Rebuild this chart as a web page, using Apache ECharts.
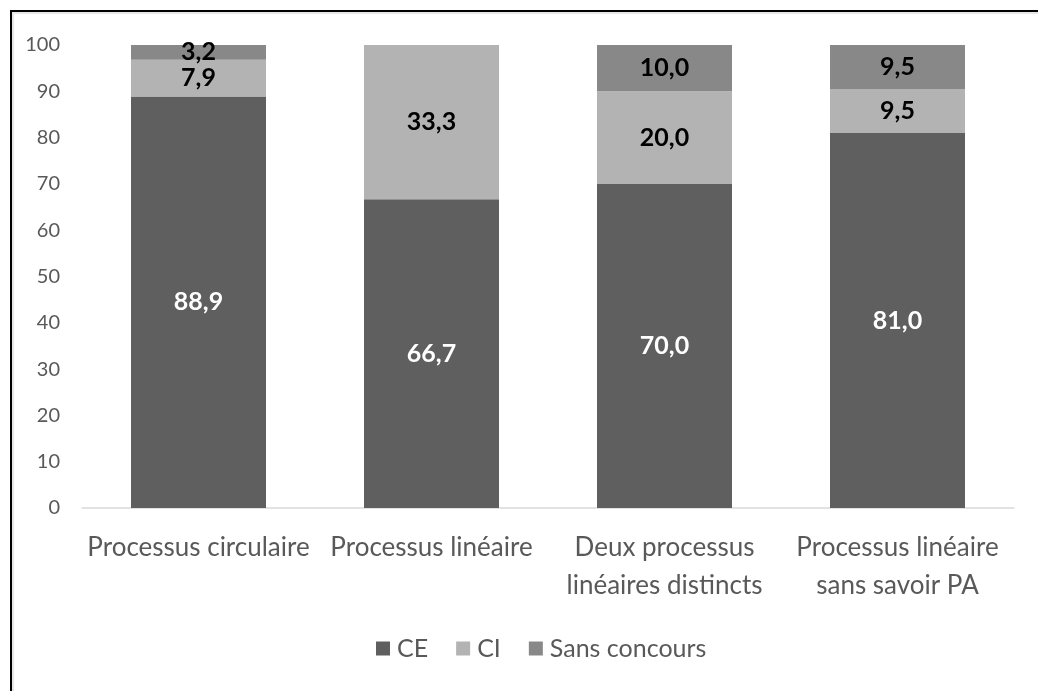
<!DOCTYPE html>
<html><head><meta charset="utf-8">
<script src="https://cdn.jsdelivr.net/npm/echarts@6/dist/echarts.min.js"></script>
<style>
html,body{margin:0;padding:0;background:#fff;}
#frame{position:absolute;left:10px;top:10px;width:1028px;height:681px;border-left:2px solid #000;border-top:2px solid #000;box-shadow:inset 2px 2px 0 #e6e6e6;}
#c{position:absolute;left:0;top:0;width:1038px;height:691px;}
</style></head><body>
<div id="frame"></div>
<div id="c"></div>
<script>
const categories = ['Processus circulaire', 'Processus linéaire', 'Deux processus\nlinéaires distincts', 'Processus linéaire\nsans savoir PA'];
const ceValues = [88.9, 66.7, 70.0, 81.0];
const ciValues = [7.9, 33.3, 20.0, 9.5];
const sansValues = [3.2, 0, 10.0, 9.5];
const seriesNames = ['CE', 'CI', 'Sans concours'];
const yTicks = [0, 10, 20, 30, 40, 50, 60, 70, 80, 90, 100];

const FONT = 'Lato, "Open Sans", sans-serif';
const fmt = p => (p.value ? p.value.toFixed(1).replace('.', ',') : '');
function mk(name, data, color, labelColor) {
  return {
    name, type: 'bar', stack: 'total', data, barWidth: 135,
    itemStyle: { color },
    label: { show: true, position: 'inside', formatter: fmt, color: labelColor,
      fontFamily: FONT, fontWeight: 'bold', fontSize: 25 }
  };
}
const chart = echarts.init(document.getElementById('c'));
chart.setOption({
  animation: false,
  backgroundColor: 'transparent',
  grid: { left: 82, right: 24, top: 45, bottom: 183 },
  legend: {
    data: seriesNames, top: 631, left: 371, itemWidth: 14, itemHeight: 14, itemGap: 28,
    icon: 'rect', textStyle: { fontFamily: FONT, fontSize: 25, color: '#595959', padding: [0, 0, 0, 2] }
  },
  xAxis: {
    type: 'category', data: categories,
    axisLine: { lineStyle: { color: '#d9d9d9', width: 1.5 } }, axisTick: { show: false },
    axisLabel: { fontFamily: FONT, fontSize: 26, color: '#595959', margin: 21, lineHeight: 38, interval: 0 }
  },
  yAxis: {
    type: 'value', min: 0, max: 100, interval: 10,
    splitLine: { show: false },
    axisLabel: { fontFamily: FONT, fontSize: 20, color: '#595959', margin: 22,
      formatter: v => yTicks.includes(v) ? String(v) : '' }
  },
  series: [
    mk(seriesNames[0], ceValues, '#5f5f5f', '#ffffff'),
    mk(seriesNames[1], ciValues, '#b3b3b3', '#000000'),
    mk(seriesNames[2], sansValues, '#888888', '#000000')
  ]
});
</script></body></html>
